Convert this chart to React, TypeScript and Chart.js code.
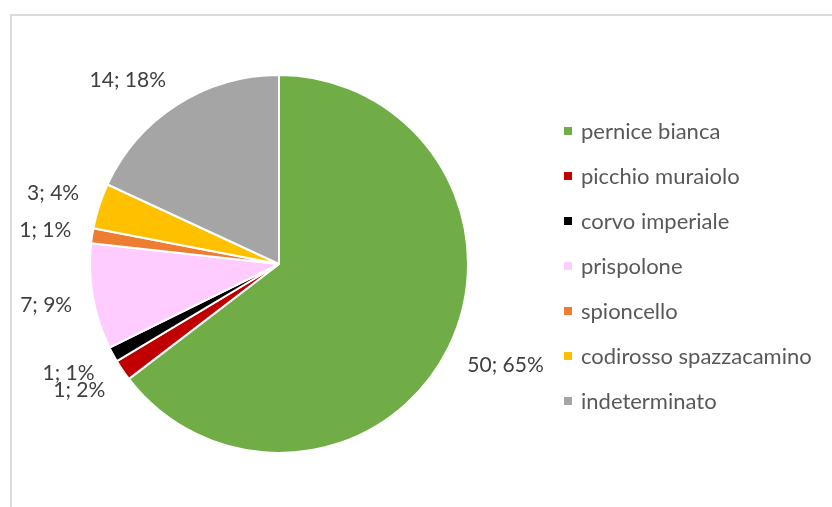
import React, { useEffect, useRef } from 'react';
import { Chart, registerables } from 'chart.js';

Chart.register(...registerables);

const categories = [
  'pernice bianca',
  'picchio muraiolo',
  'corvo imperiale',
  'prispolone',
  'spioncello',
  'codirosso spazzacamino',
  'indeterminato',
];
const counts = [50, 1.4, 1, 7, 1, 3, 14];
const colors = ['#70AD47', '#C00000', '#000000', '#FFCCFF', '#ED7D31', '#FFC000', '#A5A5A5'];

const FONT_FAMILY = 'Lato, "Open Sans", sans-serif';
const LABEL_SIZE = 21;
const LEGEND_SIZE = 22;

const pieLabels = {
  id: 'pieLabels',
  afterDatasetsDraw(chart: any) {
    const ctx = chart.ctx as CanvasRenderingContext2D;
    const meta = chart.getDatasetMeta(0);
    const data = chart.data.datasets[0].data as number[];
    const total = data.reduce((a, b) => a + b, 0);
    const cap = LABEL_SIZE * 0.72;
    ctx.save();
    ctx.font = `${LABEL_SIZE}px ${FONT_FAMILY}`;
    ctx.fillStyle = '#404040';
    ctx.textAlign = 'center';
    ctx.textBaseline = 'alphabetic';
    meta.data.forEach((arc: any, i: number) => {
      const p = arc.getProps(['x', 'y', 'startAngle', 'endAngle', 'outerRadius'], true);
      const mid = (p.startAngle + p.endAngle) / 2;
      const c = Math.cos(mid);
      const s = Math.sin(mid);
      const d = p.outerRadius + 21;
      const px = p.x + c * d;
      const py = p.y + s * d;
      const v = data[i];
      const txt = `${Math.round(v)}; ${Math.round((v / total) * 100)}%`;
      const w = ctx.measureText(txt).width;
      const fx = Math.max(-1, Math.min(1, c * 3));
      const fy = Math.max(-1, Math.min(1, s * 3));
      const cx = px + (fx * w) / 2;
      const cy = py + (fy * cap) / 2;
      ctx.fillText(txt, cx, cy + cap / 2);
    });
    ctx.restore();
  },
};

const sideLegend = {
  id: 'sideLegend',
  afterDraw(chart: any) {
    const ctx = chart.ctx as CanvasRenderingContext2D;
    const area = chart.chartArea;
    const cap = LEGEND_SIZE * 0.72;
    const midY = (area.top + area.bottom) / 2 + 2;
    const step = 45;
    const n = chart.data.labels.length;
    const boxX = area.right + 95;
    ctx.save();
    ctx.font = `${LEGEND_SIZE}px ${FONT_FAMILY}`;
    ctx.textAlign = 'left';
    ctx.textBaseline = 'alphabetic';
    for (let i = 0; i < n; i++) {
      const y = midY + (i - (n - 1) / 2) * step;
      ctx.fillStyle = (chart.data.datasets[0].backgroundColor as string[])[i];
      ctx.fillRect(boxX, y - 4, 8, 8);
      ctx.fillStyle = '#595959';
      ctx.fillText(chart.data.labels[i], boxX + 17, y + cap / 2);
    }
    ctx.restore();
  },
};

export default function App() {
  const ref = useRef<HTMLCanvasElement | null>(null);
  useEffect(() => {
    if (!ref.current) return;
    const chart = new Chart(ref.current, {
      type: 'pie',
      data: {
        labels: categories,
        datasets: [
          {
            data: counts,
            backgroundColor: colors,
            borderColor: '#ffffff',
            borderWidth: 2,
            hoverOffset: 0,
          },
        ],
      },
      options: {
        animation: false,
        responsive: false,
        layout: { padding: { left: 89, right: 363, top: 74, bottom: 53 } },
        plugins: {
          legend: { display: false },
          tooltip: { enabled: false },
        },
      },
      plugins: [pieLabels, sideLegend],
    });
    return () => chart.destroy();
  }, []);
  return (
    <div
      style={{
        position: 'absolute',
        left: 0,
        top: 0,
        width: 832,
        height: 507,
        overflow: 'hidden',
        background: '#ffffff',
      }}
    >
      <div
        style={{
          position: 'absolute',
          left: 10,
          top: 14,
          width: 900,
          height: 600,
          border: '2px solid #dcdcdc',
          boxSizing: 'border-box',
        }}
      />
      <canvas ref={ref} width={832} height={507} style={{ position: 'absolute', left: 0, top: 0 }} />
    </div>
  );
}
